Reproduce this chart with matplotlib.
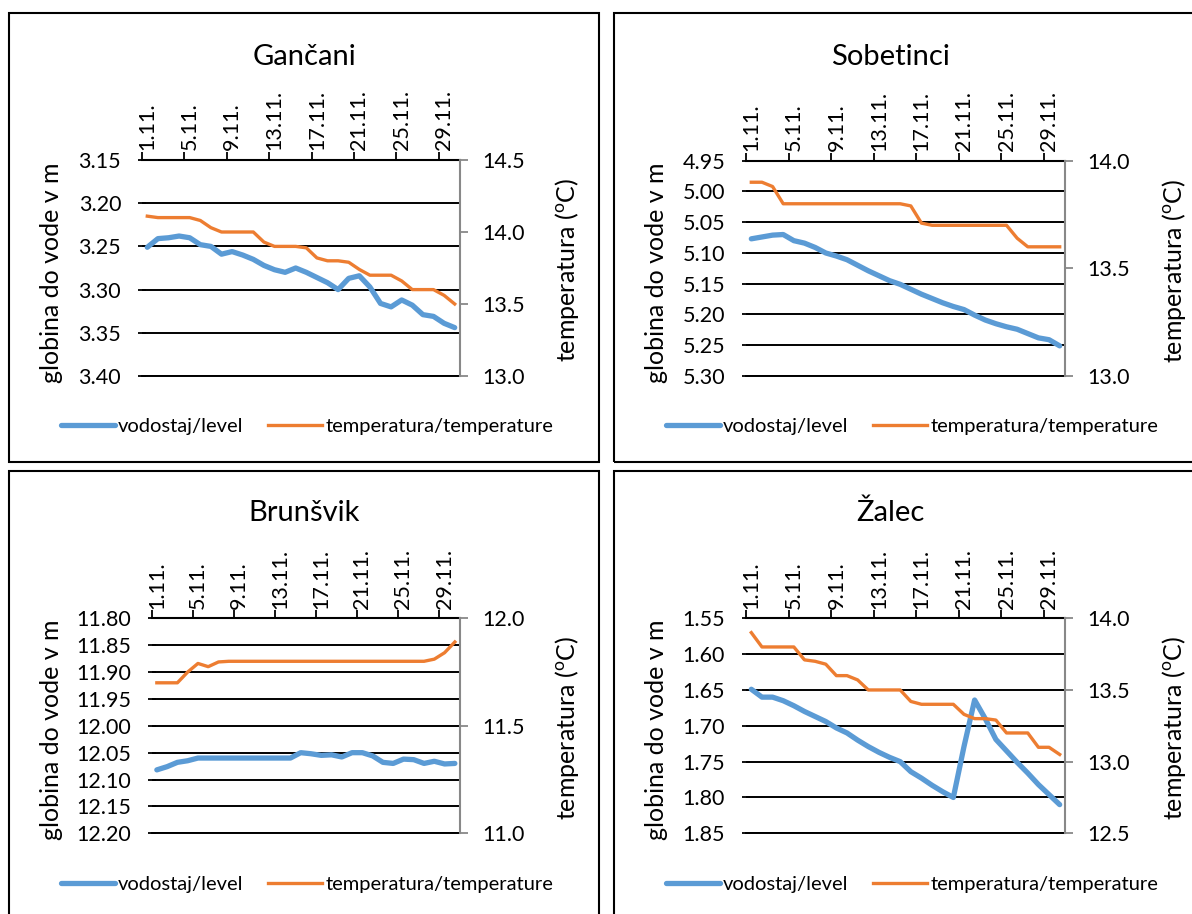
import numpy as np
import matplotlib.pyplot as plt
from matplotlib.patches import Rectangle

plt.rcParams['font.family'] = ['Lato', 'DejaVu Sans']

days = [f"{d}.11." for d in range(1, 31)]

titles = ["Gančani", "Sobetinci", "Brunšvik", "Žalec"]

level_ganc = [3.251, 3.241, 3.240, 3.238, 3.240, 3.248, 3.250, 3.259, 3.256, 3.260,
              3.265, 3.272, 3.277, 3.280, 3.275, 3.280, 3.286, 3.292, 3.300, 3.287,
              3.284, 3.297, 3.316, 3.320, 3.312, 3.318, 3.329, 3.331, 3.339, 3.344]
temp_ganc = [14.11, 14.10, 14.10, 14.10, 14.10, 14.08, 14.03, 14.00, 14.00, 14.00,
             14.00, 13.93, 13.90, 13.90, 13.90, 13.89, 13.82, 13.80, 13.80, 13.79,
             13.74, 13.70, 13.70, 13.70, 13.66, 13.60, 13.60, 13.60, 13.56, 13.50]

level_sob = [5.077, 5.074, 5.071, 5.070, 5.080, 5.084, 5.091, 5.100, 5.105, 5.111,
             5.120, 5.129, 5.137, 5.145, 5.151, 5.159, 5.167, 5.174, 5.181, 5.187,
             5.192, 5.201, 5.209, 5.215, 5.220, 5.224, 5.231, 5.238, 5.241, 5.251]
temp_sob = [13.90, 13.90, 13.88, 13.80, 13.80, 13.80, 13.80, 13.80, 13.80, 13.80,
            13.80, 13.80, 13.80, 13.80, 13.80, 13.79, 13.71, 13.70, 13.70, 13.70,
            13.70, 13.70, 13.70, 13.70, 13.70, 13.64, 13.60, 13.60, 13.60, 13.60]

level_brun = [12.082, 12.076, 12.068, 12.065, 12.060, 12.060, 12.060, 12.060, 12.060, 12.060,
              12.060, 12.060, 12.060, 12.060, 12.050, 12.052, 12.055, 12.054, 12.058, 12.050,
              12.050, 12.056, 12.068, 12.070, 12.062, 12.063, 12.070, 12.066, 12.071, 12.070]
temp_brun = [11.70, 11.70, 11.70, 11.75, 11.79, 11.775, 11.797, 11.80, 11.80, 11.80,
             11.80, 11.80, 11.80, 11.80, 11.80, 11.80, 11.80, 11.80, 11.80, 11.80,
             11.80, 11.80, 11.80, 11.80, 11.80, 11.80, 11.80, 11.81, 11.84, 11.89]

level_zal = [1.649, 1.660, 1.660, 1.665, 1.672, 1.680, 1.687, 1.694, 1.703, 1.710,
             1.720, 1.729, 1.737, 1.744, 1.750, 1.764, 1.773, 1.783, 1.792, 1.800,
             1.729, 1.664, 1.690, 1.719, 1.735, 1.751, 1.766, 1.782, 1.796, 1.810]
temp_zal = [13.90, 13.80, 13.80, 13.80, 13.80, 13.71, 13.70, 13.68, 13.60, 13.60,
            13.57, 13.50, 13.50, 13.50, 13.50, 13.42, 13.40, 13.40, 13.40, 13.40,
            13.33, 13.30, 13.30, 13.29, 13.20, 13.20, 13.20, 13.10, 13.10, 13.05]

levels = [level_ganc, level_sob, level_brun, level_zal]
temps = [temp_ganc, temp_sob, temp_brun, temp_zal]
left_ticks = [np.arange(3.15, 3.401, 0.05), np.arange(4.95, 5.301, 0.05),
              np.arange(11.80, 12.201, 0.05), np.arange(1.55, 1.851, 0.05)]
right_ticks = [np.arange(13.0, 14.51, 0.5), np.arange(13.0, 14.01, 0.5),
               np.arange(11.0, 12.01, 0.5), np.arange(12.5, 14.01, 0.5)]

BLUE = "#5B9BD5"
ORANGE = "#ED7D31"
W, H = 1192, 914

fig = plt.figure(figsize=(W / 100, H / 100), dpi=100)

# plot areas in pixels: left, top, right, bottom
areas = [(142, 160, 460, 376), (746, 160.7, 1065, 376),
         (151.7, 618.3, 460, 833.3), (746, 618.3, 1065, 833.3)]
boxes = [(9, 13, 599, 462), (614, 13, 1200, 462), (9, 471, 599, 930), (614, 471, 1200, 930)]
title_pos = [(304, 57), (890, 57), (304, 513), (890, 513)]
legend_pos = [(307, 426), (912, 426), (307, 884), (912, 884)]
ylabel_x = [63, 668, 63, 668]
y2label_x = [553, 1160, 553, 1160]

x = np.arange(len(days))

for k in range(4):
    bx0, by0, bx1, by1 = boxes[k]
    fig.patches.append(Rectangle((bx0 / W, 1 - by1 / H), (bx1 - bx0) / W, (by1 - by0) / H,
                                 transform=fig.transFigure, fill=False, ec="black", lw=1.5))
    l, t, r, b = areas[k]
    ax = fig.add_axes([l / W, 1 - b / H, (r - l) / W, (b - t) / H])
    ax2 = ax.twinx()

    lv = levels[k]
    lt = left_ticks[k]
    ax.plot(x, lv, color=BLUE, lw=3.8, solid_capstyle="round", label="vodostaj/level")
    ax.set_ylim(lt[-1], lt[0])
    ax.set_yticks(lt)
    ax.set_yticklabels([f"{v:.2f}" for v in lt])
    ax.grid(axis="y", color="black", lw=1.4)
    ax.set_axisbelow(True)
    ax.set_xlim(-0.5, 29.5)
    ax.xaxis.tick_top()
    ax.set_xticks(np.arange(-0.5, 29, 4))
    ax.set_xticklabels([])
    ax.set_xticks(np.arange(0, 30, 4), minor=True)
    ax.set_xticklabels(days[::4], minor=True, rotation=90, fontsize=15.5)
    ax.tick_params(axis="x", which="major", length=6, width=1.3, color="black", top=True, bottom=False)
    ax.tick_params(axis="x", which="minor", length=0, pad=7, top=True, bottom=False)
    ax.tick_params(axis="y", length=6, width=1.3, direction="inout", pad=12, labelsize=15.5, colors="black")
    ax.set_ylabel("globina do vode v m", fontsize=18)
    ax.yaxis.set_label_coords((ylabel_x[k] - l) / (r - l), 0.48)
    for s in ["left", "right"]:
        ax.spines[s].set_visible(False)
    ax.spines["top"].set_lw(1.5)
    ax.spines["bottom"].set_lw(1.4)

    tp = temps[k]
    rt = right_ticks[k]
    ax2.plot(x, tp, color=ORANGE, lw=2.4, label="temperatura/temperature")
    ax2.set_ylim(rt[0], rt[-1])
    ax2.set_yticks(rt)
    ax2.set_yticklabels([f"{v:.1f}" for v in rt])
    ax2.tick_params(axis="y", length=6, width=1.3, color="#888888", labelcolor="black", pad=10, labelsize=15.5)
    ax2.set_ylabel(r"temperatura ($\mathregular{^o}$C)", fontsize=18)
    ax2.yaxis.set_label_coords((y2label_x[k] - l) / (r - l), 0.49)
    for s in ["left", "top", "bottom"]:
        ax2.spines[s].set_visible(False)
    ax2.spines["right"].set_color("#888888")
    ax2.spines["right"].set_lw(1.5)

    tx, ty = title_pos[k]
    fig.text(tx / W, 1 - ty / H, titles[k], fontsize=21, ha="center", va="center")

    h1, l1 = ax.get_legend_handles_labels()
    h2, l2 = ax2.get_legend_handles_labels()
    lx, ly = legend_pos[k]
    fig.legend(h1 + h2, l1 + l2, loc="center", bbox_to_anchor=(lx / W, 1 - ly / H), ncol=2,
               frameon=False, fontsize=14.5, handlelength=2.7, handletextpad=0.15,
               columnspacing=1.2)

fig.savefig("out.png", dpi=100)
